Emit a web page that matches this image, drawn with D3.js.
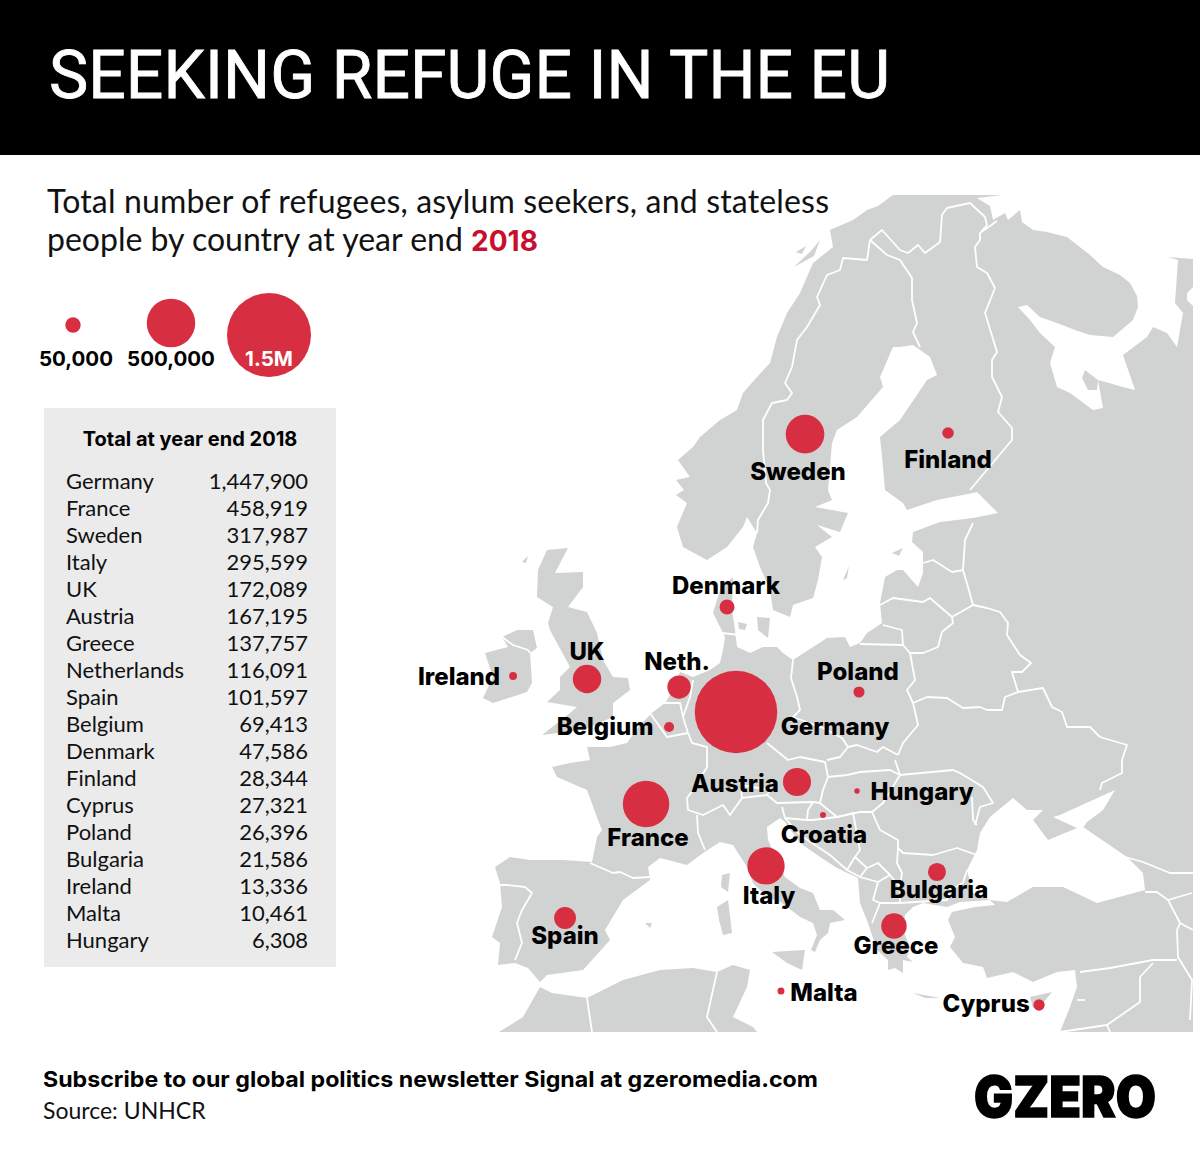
<!DOCTYPE html>
<html>
<head>
<meta charset="utf-8">
<script src="https://cdn.jsdelivr.net/npm/d3@7"></script>
<style>
  html, body { margin: 0; padding: 0; background: #fff; }
  svg { display: block; }
</style>
</head>
<body>
<svg id="chart" width="1200" height="1160"></svg>
<script>
// table rows, biggest first
const countries = ["Germany", "France", "Sweden", "Italy", "UK", "Austria", "Greece", "Netherlands", "Spain", "Belgium", "Denmark", "Finland", "Cyprus", "Poland", "Bulgaria", "Ireland", "Malta", "Hungary"];
const totals = [1447900, 458919, 317987, 295599, 172089, 167195, 137757, 116091, 101597, 69413, 47586, 28344, 27321, 26396, 21586, 13336, 10461, 6308];

// bubbles on the map. Sizes as drawn in the source: Belgium and Bulgaria look swapped
// there, and Croatia has a dot but no table row so its value is estimated
const mapLabels = ["Germany", "France", "Sweden", "Italy", "UK", "Austria", "Greece", "Neth.", "Spain", "Belgium", "Denmark", "Finland", "Cyprus", "Poland", "Bulgaria", "Ireland", "Malta", "Hungary", "Croatia"];
const mapValues = [1447900, 458919, 317987, 295599, 172089, 167195, 137757, 116091, 101597, 21586, 47586, 28344, 27321, 26396, 69413, 13336, 10461, 6308, 7500];
const lons = [10.0, 3.08, 15.31, 12.31, -1.46, 14.69, 22.15, 5.62, -3.15, 4.85, 9.31, 26.31, 33.31, 19.46, 25.46, -7.15, 13.46, 19.31, 16.69];
const lats = [51.0, 46.02, 63.95, 42.67, 52.54, 47.21, 39.42, 52.16, 39.85, 50.19, 55.89, 64.0, 35.14, 51.93, 42.34, 52.68, 35.9, 46.72, 45.43];

const legendValues = [50000, 500000, 1500000];
const legendLabels = ["50,000", "500,000", "1.5M"];

// basemap traced by hand, in page pixels
const mainland = [[893,195],[1002,195],[977,198],[990,206],[993,220],[1005,213],[1008,220],[1020,210],[1022,222],[1033,230],[1047,232],[1067,237],[1090,255],[1103,267],[1120,275],[1130,283],[1137,296],[1138,307],[1133,320],[1113,337],[1090,335],[1075,330],[1057,323],[1040,317],[1027,305],[1018,307],[1030,320],[1040,333],[1055,347],[1050,363],[1057,387],[1070,393],[1093,410],[1103,408],[1098,380],[1123,387],[1135,390],[1123,355],[1147,337],[1153,327],[1167,333],[1177,347],[1183,313],[1175,303],[1178,260],[1168,257],[1193,259],[1193,287],[1187,293],[1187,300],[1193,306],[1193,1032],[1060,1032],[1070,1007],[1077,987],[1075,970],[1057,972],[1033,982],[1013,972],[987,978],[983,967],[963,963],[950,947],[955,937],[948,920],[952,912],[975,907],[995,905],[990,900],[960,902],[947,907],[923,903],[913,907],[905,915],[903,930],[910,947],[907,957],[913,962],[903,960],[903,973],[895,968],[888,970],[888,960],[877,950],[868,923],[860,903],[858,878],[837,868],[820,857],[800,843],[785,822],[780,818],[767,827],[768,840],[785,877],[800,888],[813,893],[820,910],[833,910],[845,920],[830,923],[828,933],[820,940],[815,952],[811,950],[817,935],[813,923],[800,917],[782,903],[767,897],[753,883],[747,867],[733,845],[720,842],[703,853],[687,865],[660,858],[648,867],[650,880],[623,900],[605,930],[610,940],[583,970],[547,975],[540,982],[528,968],[515,963],[498,965],[500,943],[492,937],[502,907],[500,883],[495,867],[510,857],[530,860],[563,860],[592,862],[597,837],[602,830],[598,820],[587,790],[557,777],[552,767],[570,763],[590,760],[587,747],[610,747],[627,743],[640,725],[653,712],[665,703],[672,692],[680,672],[693,677],[710,670],[720,663],[723,650],[725,637],[713,613],[720,590],[733,577],[732,610],[735,630],[737,647],[750,653],[763,647],[777,647],[783,653],[793,660],[813,647],[827,638],[845,637],[850,647],[860,643],[867,633],[882,623],[880,603],[885,577],[897,570],[903,570],[918,587],[923,573],[923,552],[912,542],[913,532],[940,522],[973,518],[998,513],[977,492],[973,493],[937,500],[907,510],[903,503],[885,490],[883,467],[880,437],[900,420],[927,380],[937,375],[930,357],[913,345],[900,347],[893,347],[880,377],[883,387],[857,417],[837,430],[832,443],[830,467],[828,490],[832,500],[815,507],[848,513],[840,532],[817,525],[832,537],[815,547],[822,557],[818,580],[813,598],[793,605],[790,617],[773,610],[770,590],[760,567],[753,547],[757,533],[747,517],[743,527],[727,547],[707,560],[683,547],[677,527],[687,503],[676,495],[684,490],[676,480],[690,477],[678,460],[693,447],[700,437],[720,420],[737,410],[743,393],[757,377],[770,363],[777,337],[787,313],[800,293],[813,263],[833,247],[830,230],[853,220],[867,210],[878,206]];
const britain = [[547,550],[568,548],[555,573],[583,572],[583,587],[568,607],[587,612],[597,633],[603,660],[613,677],[628,678],[630,690],[613,703],[613,717],[583,730],[542,735],[570,713],[577,707],[547,702],[560,690],[560,677],[570,667],[550,630],[548,623],[553,607],[537,597],[538,570]];
const ireland = [[485,653],[508,647],[502,637],[517,630],[533,630],[537,648],[530,653],[532,683],[527,692],[493,703],[483,698],[493,677]];
const africa = [[540,987],[552,993],[587,998],[623,980],[660,970],[693,968],[717,972],[733,965],[750,970],[747,987],[733,1017],[753,1027],[757,1032],[499,1032],[523,1017]];
const islands = [
  [[717,907],[728,900],[732,933],[723,935],[719,920]], // Sardinia
  [[722,875],[730,873],[728,892],[721,887]], // Corsica
  [[645,923],[652,923],[650,928]], // Mallorca
  [[772,952],[805,950],[802,970],[787,963]], // Sicily
  [[913,993],[940,998],[925,998]], // Crete
  [[1030,997],[1052,992],[1043,1003],[1033,1008]], // Cyprus
  [[843,580],[849,566],[847,578]], // Gotland
  [[892,553],[903,548],[899,556]], // Saaremaa
  [[738,622],[747,624],[745,630],[739,629]], // Funen
  [[757,617],[770,618],[768,638],[758,630]], // Zealand
  [[522,562],[528,556],[526,563]], // Hebrides
  [[794,267],[812,250],[820,240],[814,256]], // Lofoten
  [[796,252],[806,246],[802,254]]
];
const seas = [
  [[967,870],[977,850],[980,833],[990,817],[1013,798],[1027,810],[1043,810],[1033,820],[1048,840],[1077,828],[1053,817],[1060,815],[1115,790],[1103,810],[1087,822],[1083,828],[1127,857],[1143,873],[1145,890],[1097,903],[1063,887],[1033,887],[1007,902],[990,900],[973,893]]
];
const lakes = [[[1082,378],[1085,370],[1098,380],[1097,390],[1088,390]]];
const borders = [
  [[870,240],[867,260],[843,258],[840,270],[827,275],[817,297],[820,305],[807,327],[797,340],[792,367],[785,383],[792,393],[787,400],[772,403],[763,420],[763,450],[766,483],[770,490],[768,503],[758,520],[757,533]],
  [[870,240],[887,255],[900,260],[912,278],[912,300],[917,323],[913,332],[920,347]],
  [[870,240],[882,230],[900,250],[908,253],[918,245],[925,253],[940,242],[942,215],[947,208],[970,203],[985,217],[987,225],[980,233],[997,221]],
  [[980,233],[980,240],[975,247],[977,267],[987,273],[995,288],[985,313],[997,352],[992,360],[992,377],[1002,397],[998,412],[1012,428],[1012,440],[970,490]],
  [[973,523],[965,540],[963,570],[968,587],[973,605]],
  [[923,563],[933,560],[952,572],[963,570]],
  [[880,605],[893,598],[923,602],[930,598],[952,617],[973,605]],
  [[952,617],[953,623],[942,632],[938,647],[923,653],[910,653]],
  [[883,625],[902,630],[903,645]],
  [[860,644],[903,645],[910,653],[915,680],[907,690],[913,703],[918,725],[903,743],[898,755]],
  [[913,703],[927,697],[947,698],[963,708],[980,707],[987,710],[1002,710],[1005,697],[1018,692]],
  [[973,605],[987,608],[1000,612],[1008,623],[1007,635],[1020,655],[1031,663],[1022,672],[1012,672],[1018,692]],
  [[1018,692],[1043,688],[1052,707],[1062,712],[1067,727],[1090,727],[1100,737],[1127,745],[1122,760],[1122,773],[1102,783],[1100,790]],
  [[793,660],[791,678],[797,697],[800,710],[793,717],[823,728],[842,738],[848,747],[857,745],[877,752],[883,747],[898,755]],
  [[848,747],[840,757],[827,760]],
  [[767,743],[788,760],[800,757],[825,762],[828,777],[847,775],[860,772],[890,770],[900,775],[895,760]],
  [[900,775],[953,770],[960,773],[983,787],[993,803],[980,807],[975,825]],
  [[900,775],[883,803],[872,812],[860,812],[837,817],[820,803]],
  [[828,777],[823,790],[820,803]],
  [[767,795],[777,803],[813,802],[820,803]],
  [[687,798],[688,810],[703,815],[723,805],[730,815],[742,798],[767,795]],
  [[687,798],[693,790],[707,767],[707,747],[692,743],[688,733],[683,717],[690,697],[693,680]],
  [[742,798],[741,785],[770,790],[767,795]],
  [[697,815],[698,833],[705,850]],
  [[590,863],[613,873],[620,872],[633,878],[650,877]],
  [[500,885],[507,885],[525,887],[532,893],[522,910],[517,923],[522,943],[515,960]],
  [[663,703],[680,703],[683,717]],
  [[650,713],[667,737],[688,733]],
  [[692,743],[707,747]],
  [[722,633],[740,635]],
  [[782,807],[785,818],[807,820],[813,820]],
  [[813,802],[808,810],[807,820]],
  [[813,820],[837,817],[853,813],[860,850],[855,857],[867,868]],
  [[785,818],[800,835],[830,855],[847,870],[855,857]],
  [[847,870],[860,877],[867,868],[878,863],[890,875],[878,882],[860,877]],
  [[878,882],[873,900],[880,903],[900,903],[900,887],[890,875]],
  [[880,903],[872,923]],
  [[872,812],[880,830],[898,840],[898,848],[897,863],[902,873],[900,887]],
  [[898,848],[903,853],[933,855],[957,848],[977,855]],
  [[900,903],[947,900],[950,890],[963,883],[967,870]],
  [[972,797],[973,820],[977,825]],
  [[1083,828],[1125,857],[1143,862],[1170,873],[1193,873]],
  [[1145,892],[1157,892],[1168,900],[1192,893]],
  [[1168,900],[1180,923],[1177,930],[1178,957],[1192,980],[1190,1020]],
  [[1180,923],[1193,930]],
  [[1080,972],[1110,968],[1153,960],[1177,960]],
  [[1153,963],[1140,977],[1140,1002],[1107,1025],[1110,1032]],
  [[1107,1025],[1060,1032]],
  [[1077,1000],[1085,1000]],
  [[587,998],[592,1032]],
  [[717,972],[707,1017],[717,1032]],
  [[502,637],[513,645],[528,650],[530,653]]
];

const GRAY = "#d1d2d2", RED = "#d72f41", SANS = "Lato, 'Noto Sans', sans-serif", BOLD = "Inter, Lato, sans-serif";

const svg = d3.select("#chart");

// header
svg.append("rect").attr("width", 1200).attr("height", 155).attr("fill", "#000");
svg.append("text").attr("x", 49).attr("y", 98)
  .attr("font-family", "Roboto, sans-serif").attr("font-weight", 400).attr("font-size", 66).attr("fill", "#fff")
  .attr("stroke", "#fff").attr("stroke-width", 0.8)
  .attr("textLength", 841).attr("lengthAdjust", "spacing")
  .text("SEEKING REFUGE IN THE EU");

// map
svg.append("clipPath").attr("id", "mapClip").append("rect")
  .attr("x", 0).attr("y", 195).attr("width", 1193).attr("height", 837);
const line = d3.line();
const mapG = svg.append("g").attr("clip-path", "url(#mapClip)");
const closed = pts => line(pts) + "Z";

mapG.selectAll("path.land").data([mainland, britain, ireland, africa].concat(islands)).join("path")
  .attr("class", "land").attr("d", closed).attr("fill", GRAY);
mapG.selectAll("path.sea").data(seas).join("path")
  .attr("class", "sea").attr("d", closed).attr("fill", "#fff");
mapG.selectAll("path.lake").data(lakes).join("path")
  .attr("class", "lake").attr("d", closed).attr("fill", GRAY);
mapG.selectAll("path.border").data(borders).join("path")
  .attr("class", "border").attr("d", line).attr("fill", "none")
  .attr("stroke", "#fff").attr("stroke-width", 1.8).attr("stroke-linejoin", "round");

// scales, latitude is stretched a little going north like the source map
const xLon = d3.scaleLinear().domain([-10, 35]).range([476, 1061]);
const yLat = d3.scaleLinear().domain([35.9, 51, 64]).range([991, 712, 433]);
const radius = d3.scaleSqrt().domain([0, 1500000]).range([0, 42]);

const points = mapLabels.map((name, i) => ({name, value: mapValues[i], lon: lons[i], lat: lats[i]}));

svg.selectAll("circle.bubble").data(points).join("circle")
  .attr("class", "bubble")
  .attr("cx", d => xLon(d.lon)).attr("cy", d => yLat(d.lat))
  .attr("r", d => radius(d.value)).attr("fill", RED);

// label offset from each bubble, same order as mapLabels
const labelOffsets = [[99,14],[2,33],[-7,37],[3,29],[0,-28],[-62,1],[2,19],[-2,-26],[0,17],[-64,-1],[-1,-22],[0,26],[-53,-2],[-1,-21],[2,17],[-54,0],[43,1],[65,0],[1,19]];

svg.selectAll("text.mapLabel").data(points).join("text")
  .attr("class", "mapLabel")
  .attr("x", (d, i) => xLon(d.lon) + labelOffsets[i][0])
  .attr("y", (d, i) => yLat(d.lat) + labelOffsets[i][1])
  .attr("dy", "0.36em").attr("text-anchor", "middle")
  .attr("font-family", BOLD).attr("font-weight", 800).attr("font-size", 24)
  .attr("fill", "#000").text(d => d.name);

// subtitle
const sub = svg.append("text").attr("font-family", SANS).attr("font-size", 32).attr("fill", "#111");
sub.append("tspan").attr("x", 47).attr("y", 213).attr("letter-spacing", 0.17).text("Total number of refugees, asylum seekers, and stateless");
sub.append("tspan").attr("x", 47).attr("y", 251).text("people by country at year end ");
sub.append("tspan").attr("fill", "#c8102e").attr("font-family", BOLD).attr("font-weight", 700).attr("font-size", 28).text("2018");

// size legend
const legendX = [73, 171, 269], legendY = [325, 323, 335];
svg.selectAll("circle.legend").data(legendValues).join("circle")
  .attr("class", "legend").attr("cx", (d, i) => legendX[i]).attr("cy", (d, i) => legendY[i])
  .attr("r", d => radius(d)).attr("fill", RED);
svg.selectAll("text.legend").data(legendLabels).join("text")
  .attr("class", "legend")
  .attr("x", (d, i) => [76, 171, 269][i]).attr("y", 359).attr("dy", "0.36em")
  .attr("text-anchor", "middle").attr("font-family", BOLD).attr("font-weight", 700).attr("font-size", 20.5)
  .attr("fill", (d, i) => i === 2 ? "#fff" : "#000").text(d => d);

// table
svg.append("rect").attr("x", 44).attr("y", 408).attr("width", 292).attr("height", 559).attr("fill", "#ebebeb");
svg.append("text").attr("x", 190).attr("y", 439).attr("dy", "0.36em").attr("text-anchor", "middle")
  .attr("font-family", BOLD).attr("font-weight", 700).attr("font-size", 20).attr("fill", "#000")
  .text("Total at year end 2018");

const rowY = d3.scalePoint().domain(countries).range([481, 940]);
const fmt = d3.format(",");
svg.selectAll("text.rowName").data(countries).join("text")
  .attr("class", "rowName").attr("x", 66).attr("y", d => rowY(d)).attr("dy", "0.36em")
  .attr("font-family", SANS).attr("font-size", 22).attr("fill", "#111").text(d => d);
svg.selectAll("text.rowValue").data(totals).join("text")
  .attr("class", "rowValue").attr("x", 308).attr("y", (d, i) => rowY(countries[i])).attr("dy", "0.36em")
  .attr("text-anchor", "end").attr("font-family", SANS).attr("font-size", 22).attr("fill", "#111").text(d => fmt(d));

// footer
svg.append("text").attr("x", 43).attr("y", 1079).attr("dy", "0.36em")
  .attr("font-family", BOLD).attr("font-weight", 700).attr("font-size", 22).attr("fill", "#000")
  .attr("textLength", 775).attr("lengthAdjust", "spacingAndGlyphs")
  .text("Subscribe to our global politics newsletter Signal at gzeromedia.com");
svg.append("text").attr("x", 43).attr("y", 1111).attr("dy", "0.36em")
  .attr("font-family", SANS).attr("font-size", 23).attr("fill", "#111")
  .text("Source: UNHCR");
svg.append("text").attr("x", 974).attr("y", 1117)
  .attr("font-family", "Inter, Lato, sans-serif").attr("font-weight", 900).attr("font-size", 56)
  .attr("stroke", "#000").attr("stroke-width", 1.5)
  .attr("textLength", 182).attr("lengthAdjust", "spacingAndGlyphs").attr("fill", "#000")
  .text("GZERO");
</script>
</body>
</html>
